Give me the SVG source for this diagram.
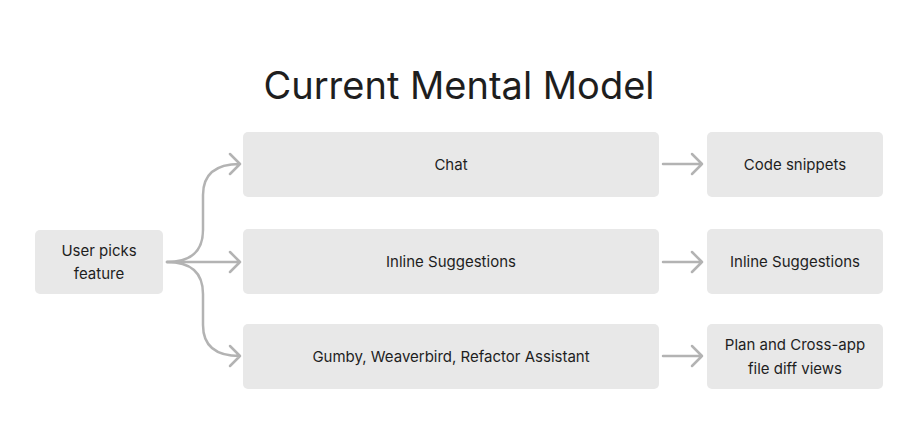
<svg xmlns="http://www.w3.org/2000/svg" width="921" height="444" viewBox="0 0 921 444">
<style>
.n{fill:#e8e8e8}
.t{font-family:Inter,"Liberation Sans",sans-serif;font-size:15px;fill:#1e1e1e;text-anchor:middle}
.c{fill:none;stroke:#b3b3b3;stroke-width:2.5;stroke-linecap:round;stroke-linejoin:round}
</style>
<rect width="921" height="444" fill="#fff"/>
<text x="459" y="99" style="font-family:Inter,'Liberation Sans',sans-serif;font-size:38px;fill:#1e1e1e;text-anchor:middle">Current Mental Model</text>
<g id="user"><rect class="n" x="35" y="230" width="128" height="64" rx="5"/><text class="t" x="99" y="256">User picks</text><text class="t" x="99" y="279">feature</text></g>
<g id="chat"><rect class="n" x="243" y="132" width="416" height="65" rx="5"/><text class="t" x="451" y="170">Chat</text></g>
<g id="inline"><rect class="n" x="243" y="229" width="416" height="65" rx="5"/><text class="t" x="451" y="267">Inline Suggestions</text></g>
<g id="gumby"><rect class="n" x="243" y="324" width="416" height="65" rx="5"/><text class="t" x="451" y="362">Gumby, Weaverbird, Refactor Assistant</text></g>
<g id="code"><rect class="n" x="707" y="132" width="176" height="65" rx="5"/><text class="t" x="795" y="170">Code snippets</text></g>
<g id="inline2"><rect class="n" x="707" y="229" width="176" height="65" rx="5"/><text class="t" x="795" y="267">Inline Suggestions</text></g>
<g id="plan"><rect class="n" x="707" y="324" width="176" height="65" rx="5"/><text class="t" x="795" y="350">Plan and Cross-app</text><text class="t" x="795" y="374">file diff views</text></g>
<g id="connectors" class="c">
<path d="M167 262 H240 M230 252 L240 262 L230 272"/>
<path d="M167 262 Q203 262 203 230 V195 Q203 164 240 164 M230 154 L240 164 L230 174"/>
<path d="M167 262 Q203 262 203 294 V325 Q203 356 240 356 M230 346 L240 356 L230 366"/>
<path d="M663 164 H702 M692 154 L702 164 L692 174"/>
<path d="M663 262 H702 M692 252 L702 262 L692 272"/>
<path d="M663 356 H702 M692 346 L702 356 L692 366"/>
</g>
</svg>
